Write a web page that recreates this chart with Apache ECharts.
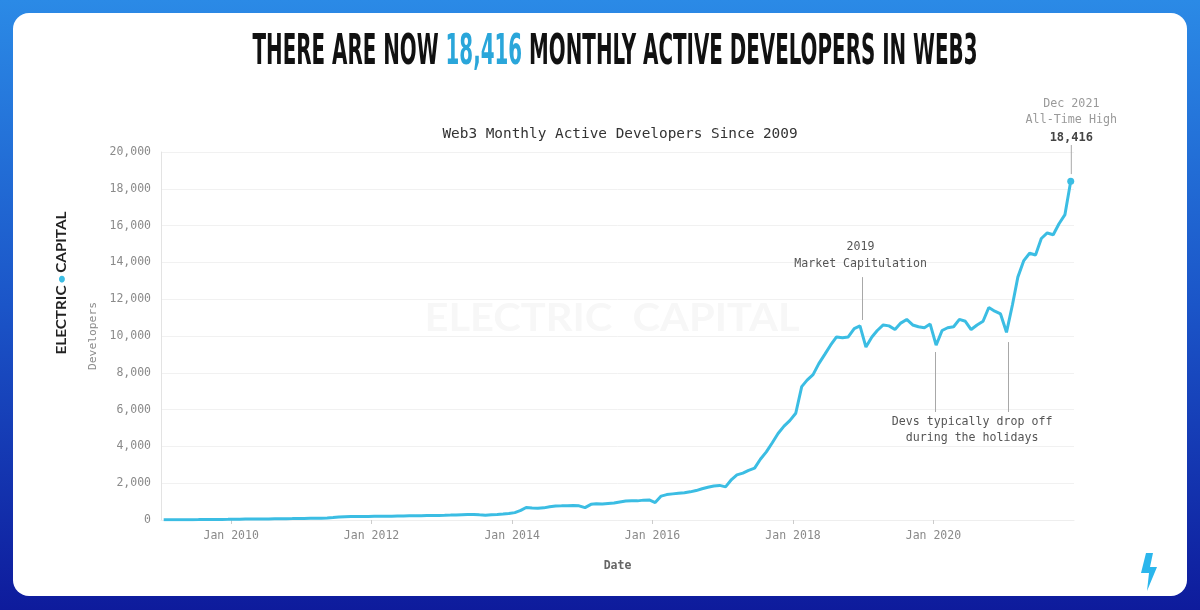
<!DOCTYPE html>
<html>
<head>
<meta charset="utf-8">
<script src="https://cdn.jsdelivr.net/npm/echarts@6/dist/echarts.min.js"></script>
<style>
html,body{margin:0;padding:0;background:#fff;}
#chart{width:1200px;height:610px;}
</style>
</head>
<body>
<div id="chart"></div>
<script>
// ---- Data (monthly active developers) ----
const years = [2009,2010,2011,2012,2013,2014,2015,2016,2017,2018,2019,2020,2021];
const v2009 = [10,12,14,16,18,20,22,25,28,30,32,35];
const v2010 = [40,45,50,52,55,58,60,65,70,72,75,80];
const v2011 = [85,90,95,100,110,130,160,180,190,190,185,190];
const v2012 = [200,205,200,210,215,220,225,230,235,240,245,250];
const v2013 = [255,265,275,285,295,300,280,260,285,300,320,350];
const v2014 = [400,520,680,650,640,660,720,760,770,780,790,770];
const v2015 = [670,850,880,870,900,920,980,1030,1050,1040,1080,1090];
const v2016 = [950,1300,1380,1420,1450,1480,1530,1600,1700,1780,1850,1880];
const v2017 = [1800,2200,2450,2550,2700,2820,3300,3700,4200,4700,5100,5400];
const v2018 = [5800,7250,7600,7900,8500,9000,9500,9950,9900,9950,10400,10550];
const v2019 = [9400,9950,10300,10600,10550,10350,10700,10900,10600,10500,10450,10650];
const v2020 = [9500,10300,10450,10500,10900,10800,10350,10600,10800,11550,11350,11200];
const v2021 = [10200,11700,13200,14100,14500,14400,15300,15600,15500,16100,16600,18416];
const yearValues = [v2009,v2010,v2011,v2012,v2013,v2014,v2015,v2016,v2017,v2018,v2019,v2020,v2021];

const xRange = ['2009-01-01', '2022-01-01'];
const xTickDates = ['2010-01-01','2012-01-01','2014-01-01','2016-01-01','2018-01-01','2020-01-01'];
const yTicks = {min:0, max:20000, interval:2000};

const headline = ['THERE ARE NOW ', '18,416', ' MONTHLY ACTIVE DEVELOPERS IN WEB3'];
const chartTitle = 'Web3 Monthly Active Developers Since 2009';

// annotations: [date, value]
const capitulationLine = [['2018-12-25', 10870], ['2018-12-25', 13200]];
const capitulationLabel = ['2018-12-18', 14375];
const holidayLine1 = [['2020-01-10', 9130], ['2020-01-10', 5870]];
const holidayLine2 = [['2021-01-26', 9670], ['2021-01-26', 5870]];
const holidayLabel = ['2020-07-20', 4890];
const athLine = [['2021-12-18', 18800], ['2021-12-18', 20380]];
const athText = ['Dec 2021', 'All-Time High'];

// ---- Build series data ----
const ts = s => +new Date(s + 'T00:00:00');
const pt = p => [ts(p[0]), p[1]];
const seriesData = [];
years.forEach((y, i) => {
  yearValues[i].forEach((v, m) => {
    const mm = String(m + 1).padStart(2, '0');
    seriesData.push([ts(`${y}-${mm}-15`), v]);
  });
});
const last = seriesData[seriesData.length - 1];

function measure(text, font) {
  const c = document.createElement('canvas').getContext('2d');
  c.font = font;
  return c.measureText(text).width;
}

const mono = '"DejaVu Sans Mono", "Liberation Mono", monospace';
const headFontFam = '"Liberation Sans Narrow", "DejaVu Sans Condensed", "Liberation Sans", sans-serif';
const headSize = 42;
const headW = measure(headline.join(''), `bold ${headSize}px ${headFontFam}`);
const headScale = 725 / headW;

const logoFam = 'Lato, "Noto Sans", sans-serif';
const logoW = measure('ELECTRIC\u2009\u2022\u2009CAPITAL', `bold 14px ${logoFam}`);
const logoScale = 143 / logoW;

const wmW = measure('ELECTRIC  CAPITAL', `bold 38px ${logoFam}`);
const wmScale = 375 / wmW;

const chart = echarts.init(document.getElementById('chart'));
const cyan = '#3bbde3';
const tickVals = xTickDates.map(ts);

const baseGraphics = [
  {id: 'bg', type: 'rect', z: -100, silent: true, shape: {x: 0, y: 0, width: 1200, height: 610},
    style: {fill: new echarts.graphic.LinearGradient(0, 0, 0, 1, [
      {offset: 0, color: '#2b8ae6'}, {offset: 0.5, color: '#1b55c8'}, {offset: 1, color: '#0e1b9c'}])}},
  {id: 'card', type: 'rect', z: -99, silent: true, shape: {x: 13, y: 13, width: 1174, height: 583, r: 16},
    style: {fill: '#ffffff'}},
  {id: 'wm', type: 'text', z: -98, silent: true, x: 612, y: 319, scaleX: wmScale,
    style: {text: 'ELECTRIC  CAPITAL', font: `bold 38px ${logoFam}`, fill: '#f7f7f7',
      textAlign: 'center', textVerticalAlign: 'middle'}},
  {id: 'head', type: 'text', z: 10, silent: true, x: 615, y: 53, scaleX: headScale,
    style: {
      text: `{a|${headline[0]}}{b|${headline[1]}}{a|${headline[2]}}`,
      textAlign: 'center', textVerticalAlign: 'middle',
      rich: {
        a: {fontFamily: headFontFam, fontSize: headSize, fontWeight: 'bold', fill: '#111111'},
        b: {fontFamily: headFontFam, fontSize: headSize, fontWeight: 'bold', fill: '#2aa6da'}
      }
    }},
  {id: 'logo', type: 'text', z: 10, silent: true, x: 61, y: 283, rotation: Math.PI / 2, scaleX: logoScale,
    style: {
      text: '{a|ELECTRIC}{b|\u2009\u2022\u2009}{a|CAPITAL}',
      textAlign: 'center', textVerticalAlign: 'middle',
      rich: {
        a: {fontFamily: logoFam, fontSize: 14, fontWeight: 'bold', fill: '#222222'},
        b: {fontFamily: logoFam, fontSize: 14, fontWeight: 'bold', fill: '#3bbde3'}
      }
    }},
  {id: 'bolt', type: 'polygon', z: 10, silent: true,
    shape: {points: [[1146,553],[1141,573],[1149,573],[1147,591],[1157,567],[1150,567],[1153,553]]},
    style: {fill: '#2bb6ec'}}
];

const option = {
  animation: false,
  title: {
    text: chartTitle,
    left: 615, top: 122, textAlign: 'center',
    textStyle: {fontFamily: mono, fontSize: 14.4, fontWeight: 'normal', color: '#333'}
  },
  grid: {left: 161, right: 126, top: 152, bottom: 90},
  xAxis: {
    type: 'value',
    min: ts(xRange[0]), max: ts(xRange[1]),
    name: 'Date', nameLocation: 'middle', nameGap: 40,
    nameTextStyle: {fontFamily: mono, fontSize: 11.5, fontWeight: 'bold', color: '#666'},
    axisLine: {show: true, lineStyle: {color: '#eeeeee'}},
    axisTick: {show: true, length: 4, lineStyle: {color: '#cccccc'}, customValues: tickVals},
    axisLabel: {
      fontFamily: mono, fontSize: 11.5, color: '#8a8a8a', margin: 10,
      customValues: tickVals,
      formatter: v => 'Jan ' + new Date(v).getFullYear()
    },
    splitLine: {show: false}
  },
  yAxis: {
    type: 'value',
    min: yTicks.min, max: yTicks.max, interval: yTicks.interval,
    name: 'Developers', nameLocation: 'middle', nameGap: 62, nameRotate: 90,
    nameTextStyle: {fontFamily: mono, fontSize: 11.3, color: '#8a8a8a'},
    axisLine: {show: true, lineStyle: {color: '#e3e3e3'}},
    axisTick: {show: false},
    axisLabel: {fontFamily: mono, fontSize: 11.5, color: '#8a8a8a', margin: 10,
      formatter: v => v.toLocaleString('en-US')},
    splitLine: {lineStyle: {color: '#f1f1f1'}}
  },
  graphic: baseGraphics,
  series: [{
    type: 'line',
    data: seriesData,
    showSymbol: false,
    lineStyle: {color: cyan, width: 3},
    itemStyle: {color: cyan},
    markLine: {
      silent: true, symbol: 'none', animation: false,
      label: {show: false},
      lineStyle: {color: '#a8a8a8', width: 1, type: 'solid'},
      emphasis: {disabled: true},
      data: [
        [{coord: pt(capitulationLine[0])}, {coord: pt(capitulationLine[1])}],
        [{coord: pt(holidayLine1[0])}, {coord: pt(holidayLine1[1])}],
        [{coord: pt(holidayLine2[0])}, {coord: pt(holidayLine2[1])}]
      ]
    },
    markPoint: {
      silent: true, animation: false,
      data: [
        {coord: last, symbol: 'circle', symbolSize: 7, itemStyle: {color: cyan}, label: {show: false}},
        {coord: pt(capitulationLabel), symbol: 'circle', symbolSize: 0,
          label: {show: true, position: 'inside', formatter: '2019\nMarket Capitulation',
            fontFamily: mono, fontSize: 11.6, color: '#555', lineHeight: 17, align: 'center'}},
        {coord: pt(holidayLabel), symbol: 'circle', symbolSize: 0,
          label: {show: true, position: 'inside', formatter: 'Devs typically drop off\nduring the holidays',
            fontFamily: mono, fontSize: 11.6, color: '#555', lineHeight: 16, align: 'center'}}
      ]
    }
  }]
};
chart.setOption(option);

// All-time-high leader line and label extend above the plot: place them with the chart's own scale
const pA = chart.convertToPixel({gridIndex: 0}, pt(athLine[0]));
const pB = chart.convertToPixel({gridIndex: 0}, pt(athLine[1]));
chart.setOption({
  graphic: baseGraphics.concat([
    {id: 'athLine', type: 'line', z: 5, silent: true,
      shape: {x1: pA[0], y1: pA[1], x2: pB[0], y2: pB[1]},
      style: {stroke: '#a8a8a8', lineWidth: 1}},
    {id: 'athText', type: 'text', z: 5, silent: true, x: pB[0], y: pB[1] + 3,
      style: {
        text: `{a|${athText[0]}}\n{a|${athText[1]}}\n{b|${last[1].toLocaleString('en-US')}}`,
        textAlign: 'center', textVerticalAlign: 'bottom',
        rich: {
          a: {fontFamily: mono, fontSize: 11.7, fill: '#9a9a9a', lineHeight: 16, align: 'center'},
          b: {fontFamily: mono, fontSize: 12, fill: '#444', fontWeight: 'bold', lineHeight: 20, align: 'center'}
        }
      }}
  ])
});
</script>
</body>
</html>
